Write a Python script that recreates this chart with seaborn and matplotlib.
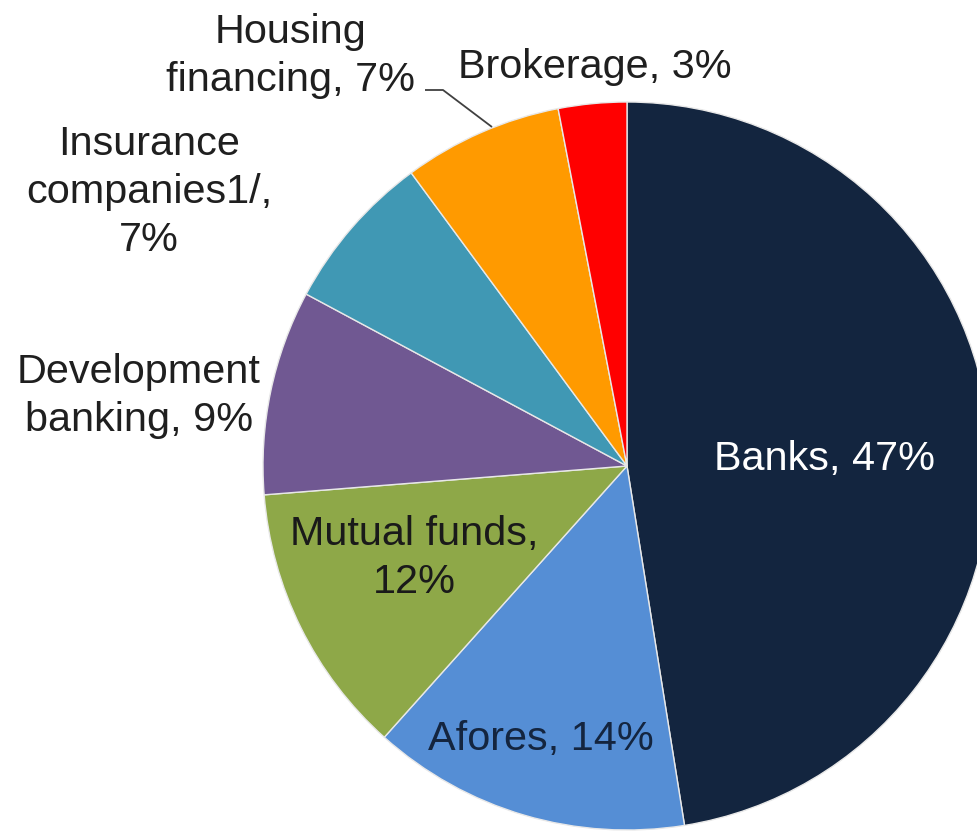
import matplotlib
matplotlib.use("Agg")
import matplotlib.pyplot as plt
import seaborn as sns

# Composition of financial system assets by sector (%)
categories = ["Banks", "Afores", "Mutual funds", "Development banking",
              "Insurance companies1/", "Housing financing", "Brokerage"]
shares = [47, 14, 12, 9, 7, 7, 3]

# How each label is broken over lines
label_names = ["Banks", "Afores", "Mutual funds", "Development\nbanking",
               "Insurance\ncompanies1/", "Housing\nfinancing", "Brokerage"]
label_seps = [", ", ", ", ",\n", ", ", ",\n", ", ", ", "]

slice_colors = ["#13253F", "#558ED5", "#8EA848", "#705892",
                "#4098B4", "#FF9A00", "#FF0000"]
text_colors = ["#FFFFFF", "#14253F", "#1A1A1A", "#1F1F1F",
               "#1F1F1F", "#1F1F1F", "#1F1F1F"]

sns.set_theme(style="white")
plt.rcParams["font.family"] = ["Liberation Sans", "DejaVu Sans"]

W, H = 978, 834
fig = plt.figure(figsize=(W / 100, H / 100), dpi=100)
ax = fig.add_axes([0, 0, 1, 1])


def px(x, y):
    """Convert top-left pixel position to axes data coordinates."""
    return x, H - y


ax.pie(shares, colors=slice_colors, startangle=90, counterclock=False,
       center=px(627, 466), radius=364,
       wedgeprops=dict(edgecolor="#E8E8E8", linewidth=1.0))

ax.set_xlim(0, W)
ax.set_ylim(0, H)
ax.set_aspect("equal")
ax.axis("off")

# Label anchor: centre x and baseline of the first line, in pixels
label_pos = [(824, 470), (541, 750), (414, 545), (139, 383),
             (149, 155), (290, 43), (595, 78)]
line_step = 48

for name, sep, val, col, (lx, ly) in zip(label_names, label_seps, shares,
                                         text_colors, label_pos):
    lines = f"{name}{sep}{val}%".split("\n")
    for i, line in enumerate(lines):
        x, y = px(lx, ly + i * line_step)
        ax.text(x, y, line, ha="center", va="baseline",
                fontsize=29.8, color=col)

# Leader line for the housing financing slice
lead = [px(425, 90), px(443, 90), px(492, 127)]
ax.plot([p[0] for p in lead], [p[1] for p in lead], color="#404040",
        linewidth=1.3, solid_capstyle="butt")

fig.savefig("out.png", dpi=100)
